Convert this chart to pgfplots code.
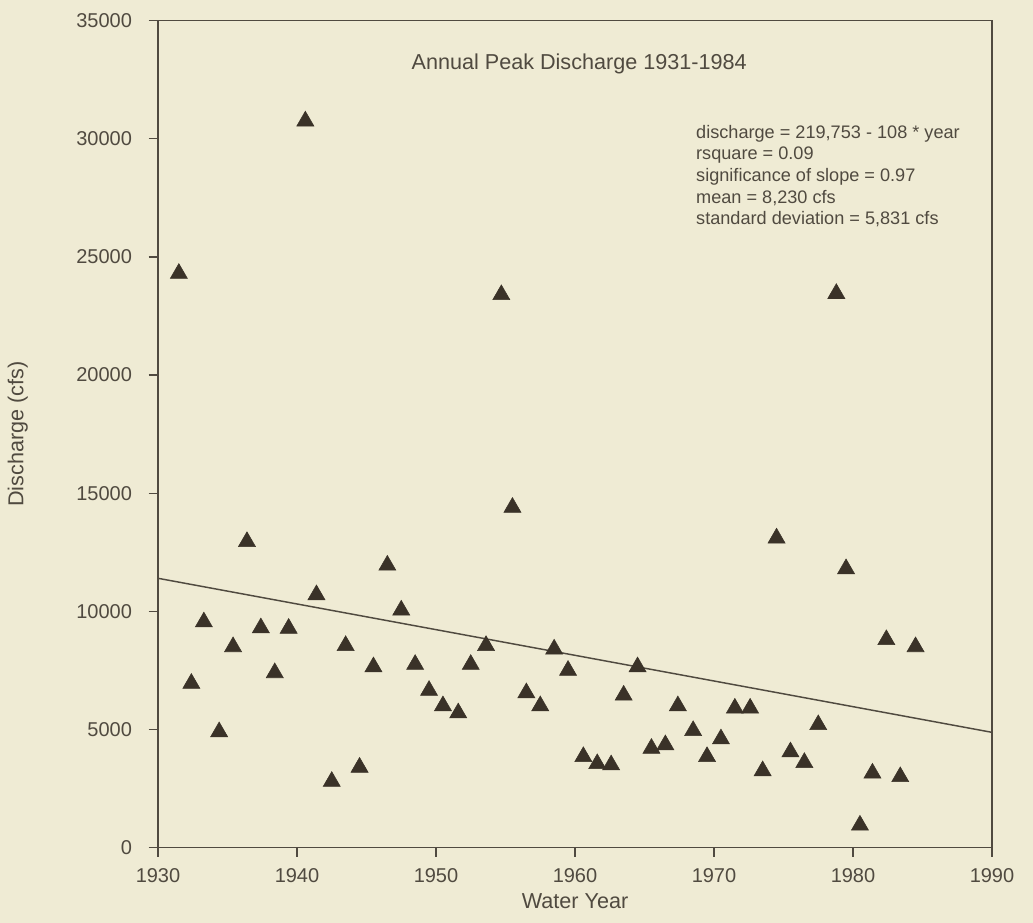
\documentclass[border=0pt]{standalone}
\usepackage{fontspec}
\setmainfont{Liberation Sans}
\usepackage{pgfplots}
\pgfplotsset{compat=1.18}

\definecolor{paper}{RGB}{239,235,212}
\definecolor{ink}{RGB}{80,74,64}
\definecolor{mk}{RGB}{58,50,40}

% peak discharge (cfs) per water year, plotted mid-year
\pgfplotstableread{
year  q
1931.5 24300
1932.4 6950
1933.3 9550
1934.4 4900
1935.4 8500
1936.4 12950
1937.4 9300
1938.4 7400
1939.4 9280
1940.6 30750
1941.4 10700
1942.5 2800
1943.5 8550
1944.5 3400
1945.5 7650
1946.5 11950
1947.5 10050
1948.5 7750
1949.5 6650
1950.5 6000
1951.6 5700
1952.5 7750
1953.6 8550
1954.7 23400
1955.5 14400
1956.5 6550
1957.5 6000
1958.5 8400
1959.5 7500
1960.6 3850
1961.6 3550
1962.6 3500
1963.5 6450
1964.5 7650
1965.5 4200
1966.5 4350
1967.4 6000
1968.5 4950
1969.5 3850
1970.5 4600
1971.5 5900
1972.6 5900
1973.5 3250
1974.5 13100
1975.5 4050
1976.5 3600
1977.5 5200
1978.8 23450
1979.5 11800
1980.5 950
1981.4 3150
1982.4 8800
1983.4 3000
1984.5 8500
}\peaks

\begin{document}
\begin{tikzpicture}
\fill[paper] (-118.5pt,-56.25pt) rectangle (656.25pt,635.75pt);
\begin{axis}[
  at={(0,0)}, anchor=south west,
  scale only axis,
  width=625.5pt, height=620.25pt,
  xmin=1930, xmax=1990, ymin=0, ymax=35000,
  xtick={1930,1940,...,1990},
  ytick={0,5000,...,35000},
  axis line style={ink, line width=0.9pt},
  tick style={ink, line width=0.9pt},
  tick align=outside,
  major tick length=7pt,
  xtick pos=bottom, ytick pos=left,
  minor tick num=0,
  scaled ticks=false,
  /pgf/number format/assume math mode=true,
  /pgf/number format/.cd, 1000 sep={}, /pgfplots/.cd,
  ticklabel style={font=\fontsize{15}{18}\selectfont, text=ink},
  yticklabel style={xshift=-9pt},
  xticklabel style={yshift=-5pt},
  xlabel={Water Year},
  ylabel={Discharge (cfs)},
  label style={font=\fontsize{16.2}{19}\selectfont, text=ink},
  xlabel style={at={(axis description cs:0.5,-0.0645)}, anchor=center},
  ylabel style={at={(axis description cs:-0.168,0.5)}, anchor=center},
  clip=false,
]
\addplot[only marks, mark=triangle*, mark size=7.4pt, color=mk] table[x=year, y=q] {\peaks};
\addplot[ink, line width=1.1pt] coordinates {(1930,11400) (1990,4880)};
\node[font=\fontsize{16.2}{19}\selectfont, text=ink, anchor=center] at (axis cs:1960.3,33180) {Annual Peak Discharge 1931-1984};
\node[font=\fontsize{13.6}{16.3}\selectfont, text=ink, anchor=north west, align=left, inner sep=0pt]
  at (axis cs:1968.7,30600) {discharge = 219,753 - 108 * year\\
rsquare = 0.09\\
significance of slope = 0.97\\
mean = 8,230 cfs\\
standard deviation = 5,831 cfs};
\end{axis}
\end{tikzpicture}
\end{document}
